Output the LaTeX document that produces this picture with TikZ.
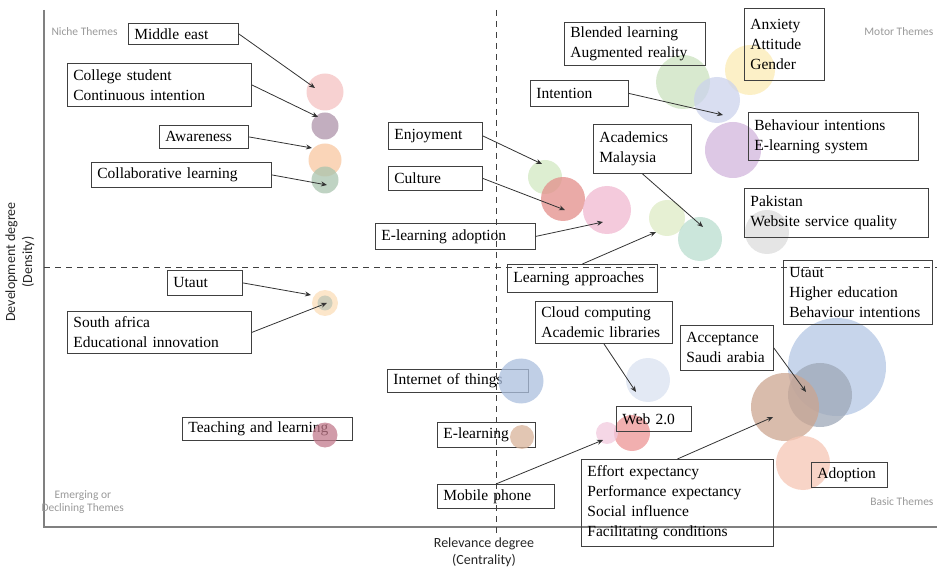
\documentclass[tikz,border=0pt]{standalone}
\usepackage{fontspec}
\setmainfont{Liberation Serif}
\newfontfamily\axisfont{Carlito}
\usepackage{tikz}
\usetikzlibrary{arrows.meta}

\definecolor{cPink}{HTML}{F4C2C2}
\definecolor{cMauve}{HTML}{AE93A9}
\definecolor{cOrange}{HTML}{F8C7A0}
\definecolor{cSage}{HTML}{AAC4AF}
\definecolor{cHalo}{HTML}{FBDDB8}
\definecolor{cCore}{HTML}{BFC7B6}
\definecolor{cRose}{HTML}{C27A8C}
\definecolor{cLime}{HTML}{D2E8C1}
\definecolor{cRed}{HTML}{E38E8A}
\definecolor{cBlush}{HTML}{F0B8D0}
\definecolor{cPale}{HTML}{DEEBC4}
\definecolor{cTeal}{HTML}{BADDCF}
\definecolor{cMoss}{HTML}{CBE1BF}
\definecolor{cYellow}{HTML}{FBEBB4}
\definecolor{cPeri}{HTML}{CCD3EC}
\definecolor{cLilac}{HTML}{D2B6DC}
\definecolor{cSilver}{HTML}{DCDCDC}
\definecolor{cSteel}{HTML}{ABBFDE}
\definecolor{cTan}{HTML}{D8B39A}
\definecolor{cIce}{HTML}{DAE2F0}
\definecolor{cCoral}{HTML}{EC9494}
\definecolor{cCandy}{HTML}{F1C9DE}
\definecolor{cSky}{HTML}{B4C7E4}
\definecolor{cSlate}{HTML}{9EA8B8}
\definecolor{cBrown}{HTML}{CCA590}
\definecolor{cPeach}{HTML}{F6C6B4}

\tikzset{
  tag/.style={draw=black!75, line width=0.8pt, anchor=north west, align=left,
    inner xsep=6pt, inner ysep=1pt, font=\fontsize{15.5}{20}\selectfont},
  bub/.style={circle, inner sep=0pt, fill opacity=0.75, draw=none},
  pointer/.style={draw=black!80, line width=0.8pt, -{Stealth[length=6pt, width=5pt]}},
  quad/.style={font=\axisfont\fontsize{11.5}{13}\selectfont, text=black!40, align=left},
  axislbl/.style={font=\axisfont\fontsize{14}{17}\selectfont, text=black!85, align=center}
}

\begin{document}
\begin{tikzpicture}[x=1pt, y=-1pt]
  \useasboundingbox (0,0) rectangle (940,569);

  % axes and quadrant split
  \draw[black!50, line width=1.2pt] (44,10) -- (44,527) -- (937,527);
  \draw[black!75, line width=1pt, dash pattern=on 6pt off 5pt] (44,268) -- (937,268);
  \draw[black!75, line width=1pt, dash pattern=on 6pt off 5pt] (496,10) -- (496,535);

  \node[axislbl, rotate=90] (ylab) at (20,262) {Development degree\\(Density)};
  \node[axislbl] (xlab) at (484,552) {Relevance degree\\(Centrality)};

  \node[quad, anchor=west] (qNiche) at (48,32) {Niche Themes};
  \node[quad, anchor=east] (qMotor) at (937,32) {Motor Themes};
  \node[quad, anchor=west] (qEmerg) at (38,502) {\hspace*{13pt}Emerging or\\Declining Themes};
  \node[quad, anchor=east] (qBasic) at (937,502) {Basic Themes};

  % theme bubbles
  \node[bub, minimum size=37, fill=cPink] (bMid) at (325,92) {};
  \node[bub, minimum size=27, fill=cMauve] (bCol) at (325,126) {};
  \node[bub, minimum size=33, fill=cOrange] (bAwa) at (325,160) {};
  \node[bub, minimum size=27, fill=cSage] (bCla) at (325,180) {};
  \node[bub, minimum size=26, fill=cHalo] (bUt1) at (325,303) {};
  \node[bub, minimum size=15, fill=cCore] (bSaf) at (325,303) {};
  \node[bub, minimum size=34, fill=cLime] (bEnj) at (545,177) {};
  \node[bub, minimum size=44, fill=cRed] (bCul) at (563,199) {};
  \node[bub, minimum size=48, fill=cBlush] (bEla) at (607,210) {};
  \node[bub, minimum size=36, fill=cPale] (bLap) at (667,218) {};
  \node[bub, minimum size=44, fill=cTeal] (bAca) at (700,239) {};
  \node[bub, minimum size=54, fill=cMoss] (bBle) at (683,82) {};
  \node[bub, minimum size=50, fill=cYellow] (bAnx) at (750,70) {};
  \node[bub, minimum size=46, fill=cPeri] (bInt) at (717,100) {};
  \node[bub, minimum size=56, fill=cLilac] (bBeh) at (733,150) {};
  \node[bub, minimum size=44, fill=cSilver] (bPak) at (767,232) {};
  \node[bub, minimum size=44, fill=cIce] (bClo) at (648,380) {};
  \node[bub, minimum size=36, fill=cCoral] (bWeb) at (632,433) {};
  \node[bub, minimum size=22, fill=cCandy] (bMob) at (607,433) {};
  \node[bub, minimum size=98, fill=cSky] (bUtb) at (837,367) {};
  \node[bub, minimum size=64, fill=cSlate] (bAcc) at (820,395) {};
  \node[bub, minimum size=68, fill=cBrown] (bEff) at (785,407) {};
  \node[bub, minimum size=54, fill=cPeach] (bAdo) at (803,463) {};

  % theme labels
  \node[tag, text width=98, minimum height=21] (me) at (128,23) {Middle east};
  \node[tag, text width=172, minimum height=43] (cs) at (67,63) {College student\\Continuous intention};
  \node[tag, text width=77, minimum height=23] (aw) at (159,125) {Awareness};
  \node[tag, text width=168, minimum height=25] (cl) at (91,162) {Collaborative learning};
  \node[tag, text width=82, minimum height=27] (en) at (388,122) {Enjoyment};
  \node[tag, text width=82, minimum height=24] (cu) at (388,166) {Culture};
  \node[tag, text width=148, minimum height=26] (ea) at (375,223) {E-learning adoption};
  \node[tag, text width=138, minimum height=28] (la) at (507,264) {Learning approaches};
  \node[tag, text width=129, minimum height=43] (bl) at (564,22) {Blended learning\\Augmented reality};
  \node[tag, text width=68, minimum height=72] (an) at (744,8) {Anxiety\\Attitude\\Gender};
  \node[tag, text width=86, minimum height=26] (in) at (530,80) {Intention};
  \node[tag, text width=158, minimum height=48] (bi) at (748,112) {Behaviour intentions\\E-learning system};
  \node[tag, text width=86, minimum height=49] (ac) at (593,124) {Academics\\Malaysia};
  \node[tag, text width=172, minimum height=49] (pk) at (744,188) {Pakistan\\Website service quality};
  \node[tag, text width=137, minimum height=64] (ub) at (783,260) {Utaut\\Higher education\\Behaviour intentions};
  \node[tag, text width=63, minimum height=25] (ut) at (167,270) {Utaut};
  \node[tag, text width=172, minimum height=42] (sa) at (67,311) {South africa\\Educational innovation};
  \node[tag, text width=158, minimum height=23] (tl) at (182,417) {Teaching and learning};
  \node[tag, text width=129, minimum height=23] (io) at (387,369) {Internet of things};
  \node[tag, text width=86, minimum height=25] (el) at (437,422) {E-learning};
  \node[tag, text width=105, minimum height=24] (mp) at (437,484) {Mobile phone};
  \node[tag, text width=125, minimum height=42] (cc) at (535,301) {Cloud computing\\Academic libraries};
  \node[tag, text width=63, minimum height=25] (wb) at (616,406) {Web 2.0};
  \node[tag, text width=81, minimum height=45] (as) at (680,325) {Acceptance\\Saudi arabia};
  \node[tag, text width=180, minimum height=87] (ef) at (581,459) {Effort expectancy\\Performance expectancy\\Social influence\\Facilitating conditions};
  \node[tag, text width=64, minimum height=25] (ad) at (811,462) {Adoption};

  % these three sit over their labels
  \node[bub, minimum size=25, fill=cRose] (bTea) at (325,435) {};
  \node[bub, minimum size=45, fill=cSteel] (bIot) at (521,381) {};
  \node[bub, minimum size=24, fill=cTan] (bEle) at (522,437) {};

  % arrow tips
  \coordinate (tMid) at (315,88);
  \coordinate (tCol) at (318,117);
  \coordinate (tAwa) at (312,148);
  \coordinate (tCla) at (327,185);
  \coordinate (tEnj) at (542,164);
  \coordinate (tCul) at (565,210);
  \coordinate (tEla) at (603,222);
  \coordinate (tLap) at (656,232);
  \coordinate (tInt) at (723,115);
  \coordinate (tAca) at (703,227);
  \coordinate (tUt1) at (311,295);
  \coordinate (tSaf) at (327,303);
  \coordinate (tClo) at (636,392);
  \coordinate (tAcc) at (806,392);
  \coordinate (tEff) at (773,417);
  \coordinate (tMob) at (603,440);

  \draw[pointer] (me.east) -- (tMid);
  \draw[pointer] (cs.east) -- (tCol);
  \draw[pointer] (aw.east) -- (tAwa);
  \draw[pointer] (cl.east) -- (tCla);
  \draw[pointer] (en.east) -- (tEnj);
  \draw[pointer] (cu.east) -- (tCul);
  \draw[pointer] (ea.east) -- (tEla);
  \draw[pointer] (la.north) -- (tLap);
  \draw[pointer] (in.east) -- (tInt);
  \draw[pointer] (ac.south) -- (tAca);
  \draw[pointer] (ut.east) -- (tUt1);
  \draw[pointer] (sa.east) -- (tSaf);
  \draw[pointer] (cc.south) -- (tClo);
  \draw[pointer] (as.east) -- (tAcc);
  \draw[pointer] (ef.north) -- (tEff);
  \draw[pointer] (mp.north) -- (tMob);

\end{tikzpicture}
\end{document}
